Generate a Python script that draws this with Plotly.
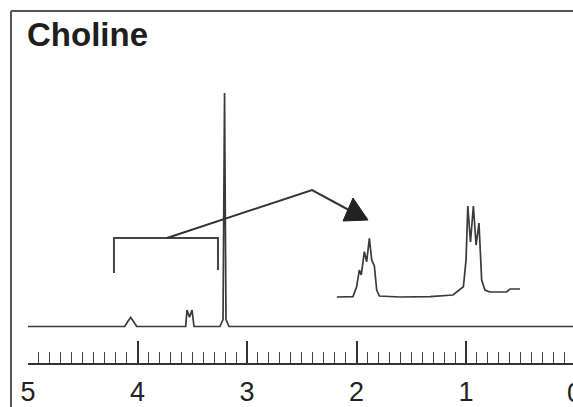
import plotly.graph_objects as go

# ---------------- data ----------------
title_text = "Choline"
tick_values = [5, 4, 3, 2, 1]
tick_labels = ["5", "4", "3", "2", "1"]
zero_label = "0"

# main 1H spectrum (ppm, relative intensity; tallest = 100)
spectrum_ppm = [5.00, 4.117, 4.09, 4.062, 4.035, 4.007, 3.56, 3.548, 3.525,
                3.502, 3.484, 3.247, 3.219, 3.205, 3.192, 3.164, 0.0]
spectrum_int = [0, 0, 2.0, 3.9, 2.0, 0, 0, 7, 4,
                7, 0, 0, 3, 100, 3, 0, 0]

# expanded region shown in the inset (ppm limits of the bracket)
inset_range_ppm = [4.215, 3.265]

# inset (expansion) trace
inset_ppm = [4.216, 4.132, 4.113, 4.099, 4.089, 4.073, 4.061, 4.047, 4.035,
             4.021, 4.009, 3.995, 3.888, 3.732, 3.613, 3.559, 3.545, 3.536,
             3.522, 3.507, 3.493, 3.478, 3.464, 3.447, 3.421, 3.334, 3.317,
             3.265]
inset_int = [0, 0.5, 11.3, 29.7, 24.2, 49.8, 38.8, 64.5, 40.7,
             34.1, 7.7, 1.1, 0, 0.5, 2.2, 11.3, 40.7, 100,
             60.4, 100, 57.1, 81.3, 18.7, 7.7, 5.5, 5.5, 8.8,
             8.8]

# ---------------- figure ----------------
W, H = 573, 407
L, R, T, B = 28, 0, 0, 44
pw, ph = W - L - R, H - T - B

line_col = "#3a3a3a"

fig = go.Figure()
fig.add_trace(go.Scatter(x=spectrum_ppm, y=spectrum_int, mode="lines",
                         line=dict(color=line_col, width=1.7),
                         hoverinfo="skip", showlegend=False))
fig.add_trace(go.Scatter(x=inset_ppm, y=inset_int, mode="lines",
                         xaxis="x2", yaxis="y2",
                         line=dict(color=line_col, width=1.7),
                         hoverinfo="skip", showlegend=False))

px_per_ppm = 109.5
x_right = 5.0 - pw / px_per_ppm

# main y mapping: baseline at pixel 326.5, tallest peak top at 93
base_px, top_px = 326.5, 93.0
ppu = (base_px - top_px) / 100.0
y_lo = -(ph - base_px) / ppu
y_hi = base_px / ppu

# inset mapping
i_left_px, i_right_px = 337.0, 520.0
i_ppp = (i_right_px - i_left_px) / (inset_range_ppm[0] - inset_range_ppm[1])
x2_lo = inset_range_ppm[0] + (i_left_px - L) / i_ppp
x2_hi = inset_range_ppm[1] - (W - R - i_right_px) / i_ppp
i_base_px, i_top_px = 297.0, 206.0
i_ppu = (i_base_px - i_top_px) / 100.0
y2_lo = -(ph - i_base_px) / i_ppu
y2_hi = i_base_px / i_ppu

def yv(px):
    return (base_px - px) / ppu

bx0, bx1 = inset_range_ppm
shapes = [
    # frame
    dict(type="line", xref="paper", yref="paper",
         x0=(11 - L) / pw, x1=(11 - L) / pw, y0=-B / ph, y1=1 - 11 / ph,
         line=dict(color="#555", width=2)),
    dict(type="line", xref="paper", yref="paper",
         x0=(11 - L) / pw, x1=1.0, y0=1 - 11 / ph, y1=1 - 11 / ph,
         line=dict(color="#555", width=2)),
    # bracket
    dict(type="path", xref="x", yref="y",
         path=f"M {bx0},{yv(273)} L {bx0},{yv(238)} L {bx1},{yv(238)} L {bx1},{yv(270)}",
         line=dict(color="#444", width=2)),
    # connector line
    dict(type="path", xref="x", yref="y",
         path=f"M 3.731,{yv(238)} L 2.406,{yv(190)} L 2.078,{yv(209.5)}",
         line=dict(color="#333", width=2)),
    # arrow head
    dict(type="path", xref="x", yref="y",
         path=f"M 1.895,{yv(220)} L 2.032,{yv(198)} L 2.123,{yv(221)} Z",
         line=dict(color="#222", width=1), fillcolor="#222"),
]

annotations = [
    dict(text=f"<b>{title_text}</b>", xref="paper", yref="paper",
         x=(25 - L) / pw, y=1 - 14 / ph, xanchor="left", yanchor="top",
         showarrow=False,
         font=dict(family="Liberation Sans, Arial", size=33, color="#1e1e1e")),
    dict(text=zero_label, xref="paper", yref="paper",
         x=(575 - L) / pw, y=(ph - 393) / ph, xanchor="center", yanchor="middle",
         showarrow=False,
         font=dict(family="Liberation Sans, Arial", size=27, color="#222222")),
]

fig.update_layout(
    width=W, height=H, autosize=False,
    margin=dict(l=L, r=R, t=T, b=B, pad=0),
    paper_bgcolor="white", plot_bgcolor="white",
    showlegend=False,
    xaxis=dict(range=[5.0, x_right], showgrid=False, zeroline=False,
               automargin=False,
               showline=True, linecolor="#333", linewidth=1.5,
               ticks="inside", ticklen=22, tickwidth=1.5, tickcolor="#333",
               tickmode="array", tickvals=tick_values, ticktext=tick_labels,
               tickfont=dict(family="Liberation Sans, Arial", size=27, color="#222"),
               ticklabelstandoff=4,
               minor=dict(tickmode="linear", tick0=0, dtick=0.1, ticks="inside",
                          ticklen=11, tickwidth=1.2, tickcolor="#444",
                          showgrid=False),
               fixedrange=True),
    yaxis=dict(range=[y_lo, y_hi], visible=False, fixedrange=True, automargin=False),
    xaxis2=dict(range=[x2_lo, x2_hi], overlaying="x", visible=False,
                fixedrange=True, automargin=False),
    yaxis2=dict(range=[y2_lo, y2_hi], overlaying="y", visible=False,
                fixedrange=True, automargin=False),
    shapes=shapes,
    annotations=annotations,
)

fig.write_html("out.html", config={"displayModeBar": False, "responsive": False},
               post_script="document.body.style.margin='0';document.body.style.overflow='hidden';")
